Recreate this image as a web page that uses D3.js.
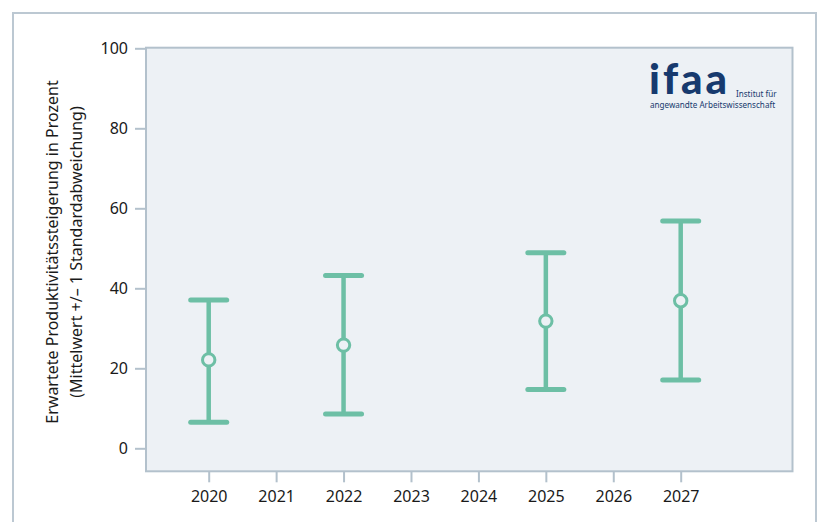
<!DOCTYPE html>
<html><head><meta charset="utf-8">
<script src="https://cdn.jsdelivr.net/npm/d3@7"></script>
<style>body{margin:0;background:#fff}svg{display:block}</style>
</head><body>
<script>
const years = [2020, 2022, 2025, 2027];
const means = [22.1, 25.8, 31.8, 36.9];
const lower = [6.5, 8.6, 14.7, 17.1];
const upper = [37.1, 43.2, 48.9, 56.8];
const xTicks = [2020, 2021, 2022, 2023, 2024, 2025, 2026, 2027];
const yTicks = [0, 20, 40, 60, 80, 100];
const yTitle = ["Erwartete Produktivitätssteigerung in Prozent", "(Mittelwert +/– 1 Standardabweichung)"];

const W = 825, H = 522;
const font = "'Noto Sans', sans-serif";
const teal = "#6dbfa5", axisCol = "#b3c1cc", bg = "#edf1f5";

const svg = d3.select("body").append("svg").attr("width", W).attr("height", H);

// outer frame
svg.append("rect").attr("x", 13).attr("y", 13).attr("width", 803).attr("height", 530)
  .attr("fill", "none").attr("stroke", "#bcc8d2").attr("stroke-width", 2);

const x = d3.scaleLinear().domain([2020, 2027]).range([208.7, 680.7]);
const y = d3.scaleLinear().domain([0, 100]).range([448.3, 48.3]);
const plotL = 146, plotR = 792.5, plotT = 47.7, plotB = 471.3;

svg.append("rect").attr("x", plotL).attr("y", plotT).attr("width", plotR - plotL).attr("height", plotB - plotT)
  .attr("fill", bg).attr("stroke", axisCol).attr("stroke-width", 2);

// y axis
const yAxis = svg.append("g").attr("transform", `translate(${plotL},0)`)
  .call(d3.axisLeft(y).tickValues(yTicks).tickSize(11).tickPadding(7));
yAxis.select(".domain").remove();
yAxis.selectAll(".tick line").attr("stroke", axisCol).attr("stroke-width", 2);
yAxis.selectAll(".tick text").attr("fill", "#1a1a1a").style("font-family", font).style("font-size", "16px");

// x axis
const xAxis = svg.append("g").attr("transform", `translate(0,${plotB})`)
  .call(d3.axisBottom(x).tickValues(xTicks).tickFormat(d3.format("d")).tickSize(11).tickPadding(8));
xAxis.select(".domain").remove();
xAxis.selectAll(".tick line").attr("stroke", axisCol).attr("stroke-width", 2);
xAxis.selectAll(".tick text").attr("fill", "#1a1a1a").style("font-family", font).style("font-size", "16px");

// y title
const tt = svg.append("text").attr("transform", `translate(58,252) rotate(-90)`)
  .attr("text-anchor", "middle").style("font-family", font).style("font-size", "16px").attr("fill", "#1a1a1a");
tt.append("tspan").attr("x", 0).attr("dy", 0).text(yTitle[0]);
tt.append("tspan").attr("x", 0).attr("dy", 24).text(yTitle[1]);

// error bars
const data = years.map((yr, i) => ({yr, m: means[i], lo: lower[i], hi: upper[i]}));
const g = svg.append("g");
const capW = 18;
g.selectAll(".v").data(data).join("line")
  .attr("x1", d => x(d.yr)).attr("x2", d => x(d.yr)).attr("y1", d => y(d.hi)).attr("y2", d => y(d.lo))
  .attr("stroke", teal).attr("stroke-width", 4.5);
g.selectAll(".ct").data(data).join("line")
  .attr("x1", d => x(d.yr) - capW).attr("x2", d => x(d.yr) + capW).attr("y1", d => y(d.hi)).attr("y2", d => y(d.hi))
  .attr("stroke", teal).attr("stroke-width", 5).attr("stroke-linecap", "round");
g.selectAll(".cb").data(data).join("line")
  .attr("x1", d => x(d.yr) - capW).attr("x2", d => x(d.yr) + capW).attr("y1", d => y(d.lo)).attr("y2", d => y(d.lo))
  .attr("stroke", teal).attr("stroke-width", 5).attr("stroke-linecap", "round");
g.selectAll("circle").data(data).join("circle")
  .attr("cx", d => x(d.yr)).attr("cy", d => y(d.m)).attr("r", 6.2)
  .attr("fill", bg).attr("stroke", teal).attr("stroke-width", 3);

// logo
const navy = "#173a6e";
svg.append("text").attr("x", 649).attr("y", 94).text("ifaa")
  .style("font-family", "'Lato', sans-serif").style("font-weight", 900).style("font-size", "42px")
  .attr("fill", navy).attr("letter-spacing", "3");
svg.append("text").attr("x", 736).attr("y", 97).text("Institut für")
  .style("font-family", font).style("font-size", "8.1px").attr("fill", navy);
svg.append("text").attr("x", 650).attr("y", 107.5).text("angewandte Arbeitswissenschaft")
  .style("font-family", font).style("font-size", "8.1px").attr("fill", navy);
</script>
</body></html>
